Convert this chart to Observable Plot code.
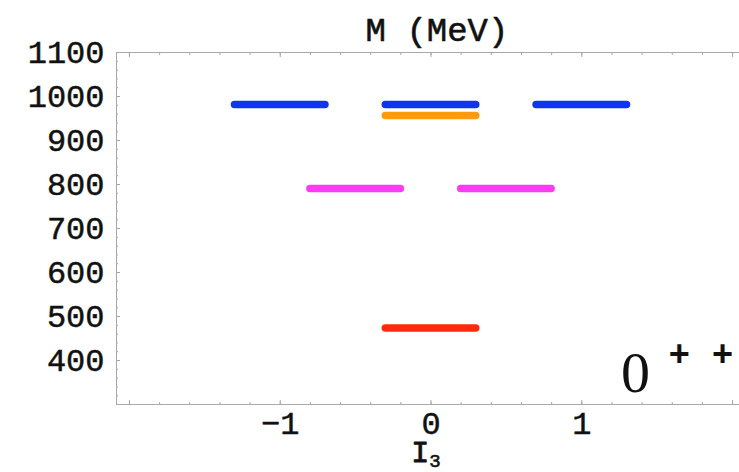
<!DOCTYPE html>
<html><head><meta charset="utf-8">
<script src="https://cdn.jsdelivr.net/npm/d3@7"></script>
<script src="https://cdn.jsdelivr.net/npm/@observablehq/plot@0.6"></script>
<style>
body{margin:0;background:#fff}
g[aria-label="y-axis tick label"] text, g[aria-label="x-axis tick label"] text {stroke:#111; stroke-width:0.5px}
</style>
</head><body><div id="chart"></div>
<script>
// Scalar meson nonet levels (I3 span, mass in MeV)
const states = ["a0(-)", "a0(0)", "a0(+)", "eta'", "kappa(-)", "kappa(+)", "sigma"];
const xStart = [-1.3, -0.3, 0.7, -0.3, -0.8, 0.2, -0.3];
const xEnd   = [-0.7,  0.3, 1.3,  0.3, -0.2, 0.8,  0.3];
const mass   = [982, 982, 982, 957, 791, 791, 474];
const colorOf = ["#1234ee", "#1234ee", "#1234ee", "#ff990f", "#ff3cf2", "#ff3cf2", "#ff2a0c"];

const xTickLabels = [-1, 0, 1];
const xMajorTicks = [-2, -1, 0, 1, 2];
const xMinorTicks = [-2, -1.8, -1.6, -1.4, -1.2, -1, -0.8, -0.6, -0.4, -0.2, 0, 0.2, 0.4, 0.6, 0.8, 1, 1.2, 1.4, 1.6, 1.8, 2];
const yTickLabels = [400, 500, 600, 700, 800, 900, 1000, 1100];
const yMinorTicks = [320, 340, 360, 380, 420, 440, 460, 480, 520, 540, 560, 580, 620, 640, 660, 680, 720, 740, 760, 780, 820, 840, 860, 880, 920, 940, 960, 980, 1020, 1040, 1060, 1080];

const titleText = "M (MeV)";
const xLabelMain = "I";
const xLabelSub = "3";
const jpcMain = "0";
const jpcSup = "+ +";

const levels = states.map((s, i) => ({state: s, x1: xStart[i], x2: xEnd[i], m: mass[i], c: colorOf[i]}));

const mono = "'Liberation Mono', 'DejaVu Sans Mono', monospace";
const axisGrey = "#a8a8a8";

const chart = Plot.plot({
  width: 739,
  height: 472,
  marginLeft: 116,
  marginRight: 0,
  marginTop: 52,
  marginBottom: 68,
  x: {domain: [-2.086, 2.046]},
  y: {domain: [300, 1100]},
  style: {background: "#fff", color: "#111", overflow: "visible"},
  marks: [
    Plot.frame({anchor: "left", stroke: axisGrey}),
    Plot.frame({anchor: "top", stroke: axisGrey}),
    Plot.frame({anchor: "bottom", stroke: axisGrey}),
    // inward tick marks
    Plot.axisX(xMinorTicks, {anchor: "bottom", tickSize: -2, tickFormat: () => "", stroke: axisGrey, label: null}),
    Plot.axisX(xMajorTicks, {anchor: "bottom", tickSize: -4, tickFormat: () => "", stroke: axisGrey, label: null}),
    Plot.axisX(xMinorTicks, {anchor: "top", tickSize: -2, tickFormat: () => "", stroke: axisGrey, label: null}),
    Plot.axisX(xMajorTicks, {anchor: "top", tickSize: -4, tickFormat: () => "", stroke: axisGrey, label: null}),
    Plot.axisY(yMinorTicks, {anchor: "left", tickSize: -2, tickFormat: () => "", stroke: axisGrey, label: null}),
    Plot.axisY(yTickLabels, {anchor: "left", tickSize: -4, tickFormat: () => "", stroke: axisGrey, label: null}),
    // tick labels
    Plot.axisX(xTickLabels, {anchor: "bottom", tickSize: 0, tickPadding: 7, tickFormat: d => d < 0 ? "\u2212" + Math.abs(d) : String(d),
      fontSize: 32, fontFamily: mono, label: null}),
    Plot.axisY(yTickLabels, {anchor: "left", tickSize: 0, tickPadding: 12, tickFormat: d => String(d),
      fontSize: 32, fontFamily: mono, label: null}),
    // levels
    Plot.ruleY(levels, {y: "m", x1: "x1", x2: "x2", stroke: "c", strokeWidth: 7.5, strokeLinecap: "round"}),
    // title and labels
    Plot.text([titleText], {frameAnchor: "top", dx: 9, dy: -22, lineAnchor: "middle", fontSize: 34, fontFamily: mono, fill: "#111", stroke: "#111", strokeWidth: 0.6}),
    Plot.text([xLabelMain], {frameAnchor: "bottom", dx: -2, dy: 48, lineAnchor: "middle", fontSize: 30, fontFamily: mono, fill: "#111", stroke: "#111", strokeWidth: 0.8, className: "xlab"}),
    Plot.text([jpcMain], {frameAnchor: "bottom-right", dx: -104, dy: -13, textAnchor: "middle", lineAnchor: "bottom", fontSize: 58, fontFamily: "'Liberation Serif', serif", fill: "#111"}),
    Plot.text([jpcSup], {frameAnchor: "bottom-right", dx: -71, dy: -39, textAnchor: "start", lineAnchor: "bottom", fontSize: 36, fontFamily: mono, fontWeight: "bold", fill: "#111"})
  ]
});
// subscript on the x label
const xl = chart.querySelector("g.xlab text");
if (xl) {
  const ts = document.createElementNS("http://www.w3.org/2000/svg", "tspan");
  ts.setAttribute("font-size", "19");
  ts.setAttribute("dy", "5");
  ts.setAttribute("stroke-width", "0.6");
  ts.textContent = xLabelSub;
  xl.appendChild(ts);
}
document.getElementById("chart").appendChild(chart);
</script>
</body></html>
